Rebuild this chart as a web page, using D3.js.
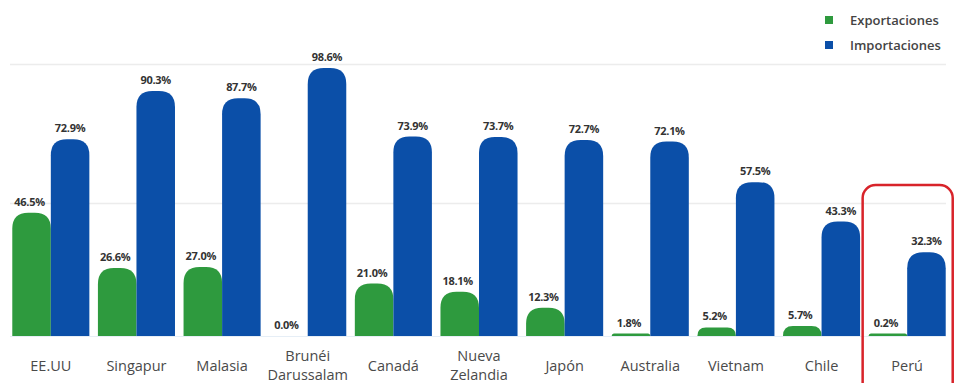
<!DOCTYPE html>
<html><head><meta charset="utf-8">
<script src="https://cdn.jsdelivr.net/npm/d3@7"></script>
<style>body{margin:0;background:#fff;} svg{display:block;font-family:"Open Sans",Lato,sans-serif;}</style>
</head><body><svg id="c" width="957" height="383"></svg>
<script>
const categories = ["EE.UU","Singapur","Malasia","Brunéi\nDarussalam","Canadá","Nueva\nZelandia","Japón","Australia","Vietnam","Chile","Perú"];
const exportaciones = [46.5,26.6,27.0,0.0,21.0,18.1,12.3,1.8,5.2,5.7,0.2];
const importaciones = [72.9,90.3,87.7,98.6,73.9,73.7,72.7,72.1,57.5,43.3,32.3];
const seriesNames = ["Exportaciones","Importaciones"];
const colors = ["#2e9a3e","#0b4fa8"];
const gridValues = [50,100];

const svg = d3.select("#c");
const x = d3.scaleBand().domain(categories).range([8,950]).paddingInner(0.1).paddingOuter(0.05);
const x1 = d3.scaleBand().domain(seriesNames).range([0,x.bandwidth()]).padding(0);
const y = d3.scaleLinear().domain([2.5,100]).range([335,64]);
const base = 336;

// gridlines
svg.selectAll("line.grid").data(gridValues).join("line")
  .attr("x1",10).attr("x2",946).attr("y1",d=>y(d)+0.5).attr("y2",d=>y(d)+0.5)
  .attr("stroke","#ececec").attr("stroke-width",1.5);
svg.append("line").attr("x1",10).attr("x2",946).attr("y1",base+0.5).attr("y2",base+0.5).attr("stroke","#e6eef6").attr("stroke-width",1);

function barPath(x0,w,yTop,yBot){
  const h = yBot - yTop;
  if(h<=0) return "";
  const r = Math.min(16, h, w/2);
  return `M${x0},${yBot} L${x0},${yTop+r} Q${x0},${yTop} ${x0+r},${yTop} L${x0+w-r},${yTop} Q${x0+w},${yTop} ${x0+w},${yTop+r} L${x0+w},${yBot} Z`;
}
const topOf = v => v>0 ? Math.min(y(v), base-2.5) : base;

const data = categories.map((c,i)=>({c, vals:[exportaciones[i],importaciones[i]]}));
const g = svg.selectAll("g.grp").data(data).join("g").attr("class","grp").attr("transform",d=>`translate(${x(d.c)},0)`);
g.selectAll("path").data(d=>d.vals.map((v,j)=>({v,j}))).join("path")
  .attr("d",d=>barPath(x1(seriesNames[d.j]), x1.bandwidth(), topOf(d.v), base))
  .attr("fill",d=>colors[d.j]);
g.selectAll("text.val").data(d=>d.vals.map((v,j)=>({v,j}))).join("text")
  .attr("class","val")
  .attr("x",d=>x1(seriesNames[d.j])+x1.bandwidth()/2 - (d.j===0?2:0))
  .attr("y",d=>topOf(d.v)-7)
  .attr("text-anchor","middle").attr("font-size",11).attr("font-weight",700).attr("fill","#333")
  .attr("letter-spacing",-0.3)
  .text(d=>d.v.toFixed(1)+"%");

// category labels (one text per line)
const catLines = [];
categories.forEach(c=>{
  const lines = c.split("\n");
  lines.forEach((ln,k)=>catLines.push({c, ln, yy: lines.length===1 ? 371 : 361 + k*19}));
});
svg.selectAll("text.cat").data(catLines).join("text").attr("class","cat")
  .attr("x",d=>x(d.c)+x.bandwidth()/2).attr("y",d=>d.yy)
  .attr("text-anchor","middle").attr("font-size",14.5).attr("fill","#4a4a4a")
  .text(d=>d.ln);

// legend
const lg = svg.selectAll("g.lg").data(seriesNames).join("g").attr("class","lg")
  .attr("transform",(d,i)=>`translate(825,${16+i*25})`);
lg.append("rect").attr("width",8).attr("height",8).attr("fill",(d,i)=>colors[i]);
lg.append("text").attr("x",25).attr("y",8.5).attr("font-size",13).attr("font-weight",600).attr("fill","#444").text(d=>d);

// highlight box for Perú
const px = x("Perú");
svg.append("rect").attr("x",px-6).attr("y",185).attr("width",x.bandwidth()+13).attr("height",215)
  .attr("rx",13).attr("fill","none").attr("stroke","#d8232a").attr("stroke-width",2.5);
</script></body></html>
